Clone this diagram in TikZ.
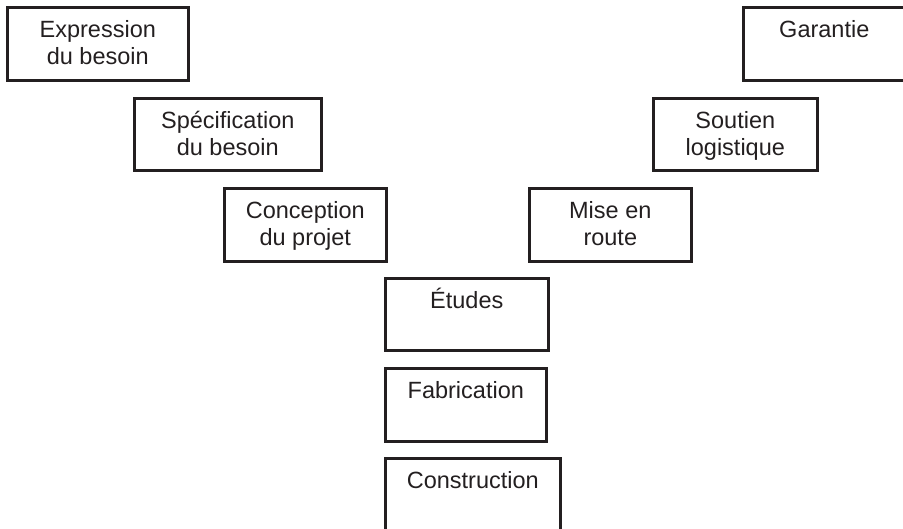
\documentclass[tikz,border=0pt]{standalone}
\usepackage{fontspec}
\setmainfont{Liberation Sans}
\definecolor{ink}{HTML}{231F20}
\begin{document}
\begin{tikzpicture}[x=1pt,y=-1pt,
  stage/.style={draw=ink, line width=2.6pt, anchor=north west, inner sep=0pt},
  caption/.style={anchor=north, inner sep=0pt, align=center, text=ink,
    font=\fontsize{23.5}{27}\selectfont}]
\useasboundingbox (0,0) rectangle (903,528);
\clip (0,0) rectangle (903,528);

% descending branch of the V
\node[stage, minimum width=181pt, minimum height=73pt] (expr) at (6,6) {};
\node[stage, minimum width=187pt, minimum height=72pt] (spec) at (133,97) {};
\node[stage, minimum width=162pt, minimum height=73pt] (conc) at (223,187) {};
% bottom column
\node[stage, minimum width=163pt, minimum height=72pt] (etud) at (384,277) {};
\node[stage, minimum width=161pt, minimum height=73pt] (fabr) at (384,367) {};
\node[stage, minimum width=175pt, minimum height=80pt] (cons) at (384,457) {};
% ascending branch of the V
\node[stage, minimum width=162pt, minimum height=73pt] (mise) at (528,187) {};
\node[stage, minimum width=164pt, minimum height=72pt] (sout) at (652,97) {};
\node[stage, minimum width=162pt, minimum height=73pt] (gara) at (742,6) {};

% captions, first baseline a fixed distance below each box top
\newcommand{\toprule}{\rule{0pt}{24pt}}
\node[caption] (texpr) at ([yshift=-7.5pt]expr.north) {\toprule Expression\\du besoin};
\node[caption] (tspec) at ([yshift=-7.5pt]spec.north) {\toprule Spécification\\du besoin};
\node[caption] (tconc) at ([yshift=-7.5pt]conc.north) {\toprule Conception\\du projet};
\node[caption] (tetud) at ([yshift=-7.5pt]etud.north) {\toprule Études};
\node[caption] (tfabr) at ([yshift=-7.5pt]fabr.north) {\toprule Fabrication};
\node[caption] (tcons) at ([yshift=-7.5pt]cons.north) {\toprule Construction};
\node[caption] (tmise) at ([yshift=-7.5pt]mise.north) {\toprule Mise en\\route};
\node[caption] (tsout) at ([yshift=-7.5pt]sout.north) {\toprule Soutien\\logistique};
\node[caption] (tgara) at ([yshift=-7.5pt]gara.north) {\toprule Garantie};
\end{tikzpicture}
\end{document}
